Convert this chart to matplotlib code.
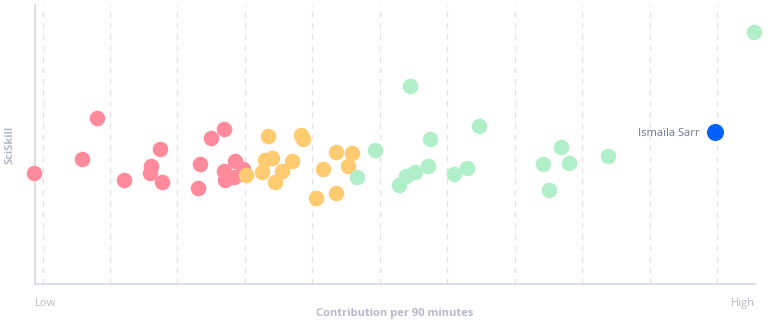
import matplotlib.pyplot as plt

# ----- data (x: contribution per 90, 0-10 grid scale; y: SciSkill, 0-100) -----
red_x = [-0.13, 0.59, 0.81, 1.21, 1.61, 1.59, 1.74, 1.77, 2.31, 2.34, 2.50, 2.69, 2.69, 2.71, 2.85, 2.84, 2.97]
red_y = [39.8, 44.8, 59.5, 37.3, 42.3, 39.8, 48.4, 36.6, 34.4, 43.0, 52.3, 55.6, 40.5, 37.3, 44.1, 38.4, 41.2]

orange_x = [3.02, 3.34, 3.25, 3.30, 3.40, 3.45, 3.55, 3.70, 3.83, 3.86, 4.06, 4.16, 4.35, 4.35, 4.53, 4.59]
orange_y = [39.1, 53.0, 40.1, 44.4, 45.2, 36.6, 40.5, 44.1, 53.4, 52.0, 30.8, 41.2, 47.3, 32.6, 42.3, 47.0]

green_x = [4.93, 4.66, 5.45, 6.47, 5.75, 5.72, 5.52, 5.39, 5.29, 6.10, 6.29, 7.42, 7.69, 7.81, 7.51, 8.38, 10.55]
green_y = [48.0, 38.4, 71.0, 56.6, 52.0, 42.3, 40.1, 38.7, 35.5, 39.4, 41.6, 43.0, 49.1, 43.4, 33.7, 45.9, 90.3]

player = "Ismaïla Sarr"
player_x = 9.97
player_y = 54.5
# ------------------------------------------------------------------------------

plt.rcParams['font.family'] = ['Open Sans', 'DejaVu Sans']

fig = plt.figure(figsize=(7.69, 3.23), dpi=100)
ax = fig.add_axes([34.5 / 769, 39 / 323, (755 - 34.5) / 769, (284 - 5) / 323])

ax.set_xlim(-0.119, 10.563)
ax.set_ylim(0, 100)

# dashed vertical grid
for gx in range(11):
    ax.axvline(gx, color='#e3e3e6', lw=1, ls=(0, (4, 4)), zorder=0)

size = 125
ax.scatter(red_x, red_y, s=size, color='#ff8a9b', lw=0, clip_on=False, zorder=3)
ax.scatter(orange_x, orange_y, s=size, color='#ffcb70', lw=0, clip_on=False, zorder=3)
ax.scatter(green_x, green_y, s=size, color='#b1efc9', lw=0, clip_on=False, zorder=3)
ax.scatter([player_x], [player_y], s=150, color='#0061ff', lw=0, clip_on=False, zorder=4)
ax.annotate(player, (player_x, player_y), xytext=(-11, 0), textcoords='offset points',
            ha='right', va='center_baseline', fontsize=8, color='#6b7792')

for side in ['top', 'right']:
    ax.spines[side].set_visible(False)
for side in ['left', 'bottom']:
    ax.spines[side].set_color('#d8dce5')
    ax.spines[side].set_linewidth(1.3)

ax.set_xticks([])
ax.set_yticks([])

ax.text(0, -0.05, "Low", transform=ax.transAxes, ha='left', va='top',
        fontsize=8, color='#b8bcc6')
ax.text(1, -0.05, "High", transform=ax.transAxes, ha='right', va='top',
        fontsize=8, color='#b8bcc6')
ax.text(0.5, -0.085, "Contribution per 90 minutes", transform=ax.transAxes,
        ha='center', va='top', fontsize=8, fontweight='bold', color='#b4bac8')
fig.text(10 / 769, 1 - 144.5 / 323, "SciSkill", rotation=90, ha='center', va='center',
         fontsize=8, fontweight='bold', color='#b4bac8')

fig.savefig('out.png', dpi=100)
